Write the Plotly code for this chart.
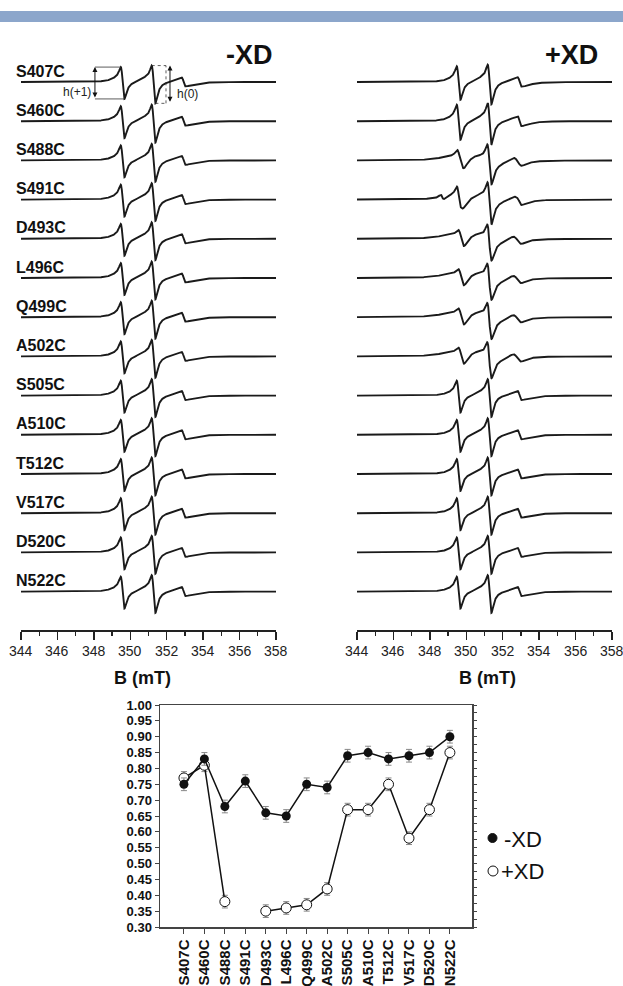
import numpy as np
import plotly.graph_objects as go

# ---------------- data ----------------
mutants = ["S407C", "S460C", "S488C", "S491C", "D493C", "L496C", "Q499C",
           "A502C", "S505C", "A510C", "T512C", "V517C", "D520C", "N522C"]

# mobility ratio h(+1)/h(0)
ratio_minus = [0.75, 0.83, 0.68, 0.76, 0.66, 0.65, 0.75, 0.74, 0.84, 0.85, 0.83, 0.84, 0.85, 0.90]
ratio_plus = [0.77, 0.81, 0.38, None, 0.35, 0.36, 0.37, 0.42, 0.67, 0.67, 0.75, 0.58, 0.67, 0.85]
err_minus = [0.02] * 14
err_plus = [0.02, 0.02, 0.02, None, 0.02, 0.02, 0.02, 0.02, 0.02, 0.02, 0.02, 0.02, 0.02, 0.02]

# EPR line-shape components (derivative Lorentzians): centre (mT), width (mT), amplitude
mobile_b0 = [349.58, 349.45, 351.28, 351.10, 352.92, 352.95]
mobile_w = [0.17, 0.50, 0.17, 0.50, 0.15, 0.55]
mobile_a = [15.0, 2.5, 18.0, 3.5, 3.0, 3.0]

broad_b0 = [349.72, 349.30, 351.27, 351.00, 352.80]
broad_w = [0.28, 0.80, 0.20, 0.90, 0.40]
broad_a = [8.5, 2.0, 17.0, 5.0, 4.0]

extra_b0 = 348.68
extra_w = 0.15

# per-spectrum weights
minus_mobile = [1.0] * 14
minus_broad = [0.0] * 14
plus_mobile = [1.05, 1.1, 0.2, 0.55, 0.0, 0.0, 0.0, 0.0, 1.0, 1.0, 1.0, 1.0, 1.0, 1.0]
plus_broad = [0.0, 0.0, 0.9, 0.6, 1.0, 1.0, 1.0, 1.0, 0.0, 0.0, 0.0, 0.0, 0.0, 0.0]
plus_extra = [0, 0, 0, 2.5, 0, 0, 0, 0, 0, 0, 0, 0, 0, 0]

field_ticks = [344, 346, 348, 350, 352, 354, 356, 358]
field_minor = [345, 347, 349, 351, 353, 355, 357]

# ---------------- layout helpers ----------------
W, H = 623, 986
SPACING = 39.2          # px between spectrum baselines
TOP_BASE = 82           # px of first baseline
AXIS_PX = 630
TOP_PX = 30


def px_x(p):
    return p / W


def px_y(p):
    return 1 - p / H


def dlor(B, b0, w, a):
    u = (B - b0) / w
    return a * (-2 * u / (1 + u * u) ** 2) / 0.6495


def spectrum(B, mob, brd, ext):
    s = np.zeros_like(B)
    for b0, w, a in zip(mobile_b0, mobile_w, mobile_a):
        s += mob * dlor(B, b0, w, a)
    for b0, w, a in zip(broad_b0, broad_w, broad_a):
        s += brd * dlor(B, b0, w, a)
    if ext:
        s += dlor(B, extra_b0, extra_w, ext)
    return s


B = np.linspace(field_ticks[0], field_ticks[-1], 2801)

fig = go.Figure()
line_style = dict(color="#1a1a1a", width=1.9)

for i, m in enumerate(mutants):
    base = -i * SPACING
    yl = base + spectrum(B, minus_mobile[i], minus_broad[i], 0)
    fig.add_trace(go.Scatter(x=B, y=yl, mode="lines", line=line_style,
                             xaxis="x", yaxis="y", showlegend=False, hoverinfo="skip"))
    yr = base + spectrum(B, plus_mobile[i], plus_broad[i], plus_extra[i])
    fig.add_trace(go.Scatter(x=B, y=yr, mode="lines", line=line_style,
                             xaxis="x2", yaxis="y2", showlegend=False, hoverinfo="skip"))

# bottom chart
idx = list(range(len(mutants)))
fig.add_trace(go.Scatter(
    x=idx, y=ratio_plus, mode="lines+markers", connectgaps=False,
    line=dict(color="#111", width=1.5),
    marker=dict(symbol="circle", size=10, color="white", line=dict(color="#111", width=1)),
    error_y=dict(type="data", array=err_plus, color="#888", thickness=1, width=3),
    xaxis="x3", yaxis="y3", showlegend=False))
fig.add_trace(go.Scatter(
    x=idx, y=ratio_minus, mode="lines+markers",
    line=dict(color="#111", width=1.5),
    marker=dict(symbol="circle", size=9, color="#111"),
    error_y=dict(type="data", array=err_minus, color="#888", thickness=1, width=3),
    xaxis="x3", yaxis="y3", showlegend=False))

field_axis = dict(range=[field_ticks[0], field_ticks[-1]], showline=True, linecolor="#222",
                  linewidth=1.5, ticks="outside", tickvals=field_ticks, ticklen=8,
                  tickwidth=1.3, tickcolor="#222", showgrid=False, zeroline=False,
                  automargin=False, showticklabels=False,
                  minor=dict(tickvals=field_minor, ticklen=4, ticks="outside", tickwidth=1.3,
                             tickcolor="#222", showgrid=False),
                  fixedrange=True)
y_spec = dict(domain=[px_y(AXIS_PX), px_y(TOP_PX)], automargin=False,
              range=[-(AXIS_PX - TOP_BASE), TOP_BASE - TOP_PX], visible=False, fixedrange=True)

fig.update_layout(
    width=W, height=H, margin=dict(l=0, r=0, t=0, b=0, autoexpand=False),
    paper_bgcolor="white", plot_bgcolor="white",
    font=dict(family="Liberation Sans, Arial, sans-serif", color="#111"),
    xaxis=dict(field_axis, domain=[px_x(21), px_x(276)], anchor="y"),
    yaxis=dict(y_spec, anchor="x"),
    xaxis2=dict(field_axis, domain=[px_x(357), px_x(612)], anchor="y2"),
    yaxis2=dict(y_spec, anchor="x2"),
    xaxis3=dict(domain=[px_x(160), px_x(472)], anchor="y3", range=[-1.17, 14.08],
                tickvals=idx, ticktext=mutants, tickangle=-90, ticks="outside", ticklen=5,
                tickcolor="#444", showline=True, linecolor="#444", linewidth=1.5, mirror=True,
                showgrid=False, zeroline=False, automargin=False,
                tickfont=dict(family="Liberation Sans, Arial, sans-serif", size=15,
                              weight="bold", color="#111")),
    yaxis3=dict(domain=[px_y(927), px_y(705)], anchor="x3", range=[0.30, 1.00],
                tickvals=[round(0.30 + 0.05 * k, 2) for k in range(15)], tickformat=".2f",
                ticks="outside", ticklen=4, tickcolor="#444", showline=True, linecolor="#444",
                linewidth=1.5, mirror=True, showgrid=False, zeroline=False, automargin=False,
                tickfont=dict(family="Liberation Sans, Arial, sans-serif", size=13,
                              weight="bold", color="#111")),
    yaxis4=dict(overlaying="y3", side="right", anchor="x3", range=[0.30, 1.00],
                dtick=0.025, tick0=0.30, ticks="outside", ticklen=4, tickcolor="#444",
                showticklabels=False, showline=False, showgrid=False, zeroline=False,
                automargin=False),
)
# dummy to activate yaxis4
fig.add_trace(go.Scatter(x=[None], y=[None], xaxis="x3", yaxis="y4", showlegend=False))

shapes = []
annotations = []

# top blue band
shapes.append(dict(type="rect", xref="paper", yref="paper", x0=0, x1=1, y0=px_y(22), y1=px_y(11),
                   fillcolor="#8CA6CB", line=dict(width=0), layer="below"))


def label(text, x, y, size, xanchor="center", xref="paper", yref="paper", color="#111"):
    annotations.append(dict(text=text, x=x, y=y, xref=xref, yref=yref, xanchor=xanchor,
                            yanchor="middle", showarrow=False, font=dict(size=size, color=color)))


# panel titles
label("<b>-XD</b>", px_x(249.5), px_y(55), 27)
label("<b>+XD</b>", px_x(571), px_y(55), 27)
# axis titles
for cx in (142.5, 487):
    label("<b>B (mT)</b>", px_x(cx), px_y(678), 18)
# field tick labels
for xr in ("x", "x2"):
    for v in field_ticks:
        label(str(v), v, px_y(651), 14, xref=xr, color="#222")
# spectrum labels
for i, m in enumerate(mutants):
    label("<b>%s</b>" % m, px_x(14), -i * SPACING + 11, 16, xanchor="left", yref="y")

# h(+1) and h(0) markers on first -XD spectrum
s0 = spectrum(B, minus_mobile[0], minus_broad[0], 0)
low = (B > 349.0) & (B < 350.2)
cen = (B > 350.8) & (B < 351.8)
h1_top, h1_bot = s0[low].max(), s0[low].min()
h0_top, h0_bot = s0[cen].max(), s0[cen].min()
b_h0_peak = B[cen][np.argmax(s0[cen])]
b_h0_trough = B[cen][np.argmin(s0[cen])]
b_h1_peak = B[low][np.argmax(s0[low])]
b_h1_trough = B[low][np.argmin(s0[low])]

thin = dict(color="#333", width=0.8)
dot = dict(color="#333", width=0.8, dash="dot")
shapes.append(dict(type="line", xref="x", yref="y", x0=348.06, x1=b_h1_peak, y0=h1_top, y1=h1_top, line=thin))
shapes.append(dict(type="line", xref="x", yref="y", x0=348.06, x1=b_h1_trough, y0=h1_bot, y1=h1_bot, line=thin))
shapes.append(dict(type="line", xref="x", yref="y", x0=b_h0_peak, x1=351.96, y0=h0_top, y1=h0_top, line=dot))
shapes.append(dict(type="line", xref="x", yref="y", x0=b_h0_trough, x1=351.96, y0=h0_bot, y1=h0_bot, line=dot))
shapes.append(dict(type="line", xref="x", yref="y", x0=351.96, x1=351.96, y0=h0_bot, y1=h0_top, line=dot))

for xa, yt, yb in ((348.06, h1_top, h1_bot), (352.18, h0_top, h0_bot)):
    annotations.append(dict(x=xa, y=yt, ax=xa, ay=yb, xref="x", yref="y", axref="x", ayref="y",
                            text="", showarrow=True, arrowhead=2, arrowside="end+start",
                            arrowsize=1, arrowwidth=1, arrowcolor="#111"))
label("h(+1)", 347.1, -10, 12, xref="x", yref="y", color="#222")
label("h(0)", 353.14, -12, 12, xref="x", yref="y", color="#222")

# legend of bottom chart
shapes.append(dict(type="circle", xref="paper", yref="paper", x0=px_x(488), x1=px_x(497),
                   y0=px_y(842.5), y1=px_y(833.5), fillcolor="#111", line=dict(color="#111", width=1)))
shapes.append(dict(type="circle", xref="paper", yref="paper", x0=px_x(488), x1=px_x(498),
                   y0=px_y(876), y1=px_y(866), fillcolor="white", line=dict(color="#111", width=1)))
label("-XD", px_x(502), px_y(839), 22, xanchor="left")
label("+XD", px_x(499), px_y(871), 22, xanchor="left")

fig.update_layout(shapes=shapes, annotations=annotations)

fig.write_html("out.html", config={"staticPlot": True},
               post_script="document.body.style.margin='0';document.body.style.overflow='hidden';")
